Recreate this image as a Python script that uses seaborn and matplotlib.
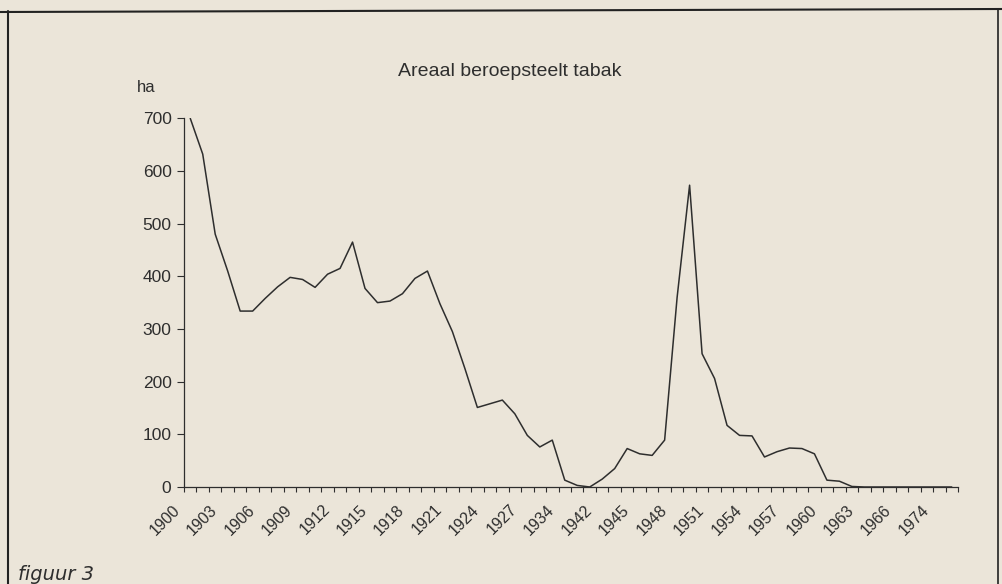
import matplotlib
matplotlib.use("Agg")
import matplotlib.pyplot as plt
import matplotlib.transforms as mtransforms
import seaborn as sns
import pandas as pd
import numpy as np
from matplotlib.lines import Line2D

# ---- data ----
years = (list(range(1900, 1928)) + [1929, 1931, 1934, 1938, 1940]
         + list(range(1942, 1967)) + [1968, 1971, 1974, 1977])
hectares = [700, 632, 480, 410, 334, 334, 358, 380, 398, 394,
            379, 404, 415, 465, 377, 350, 353, 367, 396, 410,
            348, 295, 225, 151, 158, 165, 139, 98, 76, 89,
            13, 3, 0, 15, 35, 73, 63, 60, 89, 360,
            573, 253, 206, 117, 98, 97, 57, 67, 74, 73,
            63, 13, 11, 1, 0, 0, 0, 0, 0, 0,
            0, 0]
label_every = 3
title = "Areaal beroepsteelt tabak"
y_unit = "ha"
caption = "figuur 3"

df = pd.DataFrame({"pos": np.arange(len(years)), "year": years, "ha": hectares})

bg = "#ebe5d9"
ink = "#2e2e2e"

sns.set_theme(style="white")
plt.rcParams["font.family"] = ["Liberation Sans", "DejaVu Sans"]

fig = plt.figure(figsize=(10.02, 5.84), dpi=100, facecolor=bg)
ax = fig.add_axes([184 / 1002, 1 - 487 / 584, (958 - 184) / 1002, (487 - 118.3) / 584])
ax.set_facecolor(bg)

sns.lineplot(data=df, x="pos", y="ha", ax=ax, color=ink, linewidth=1.1)

n = len(years)
ax.set_xlim(-0.5, n - 0.5)
ax.set_ylim(0, 700)
ax.set_xlabel("")
ax.set_ylabel("")

# x: tick marks on category boundaries, labels at category centres
ax.set_xticks(np.arange(n + 1) - 0.5)
ax.set_xticklabels([])
ax.tick_params(axis="x", which="major", direction="out", length=3.5, width=0.8, color=ink, bottom=True)
lab_pos = np.arange(0, n, label_every)
ax.set_xticks(lab_pos, minor=True)
ax.set_xticklabels([str(years[i]) for i in lab_pos], minor=True, rotation=45,
                   ha="right", va="top", rotation_mode="anchor", fontsize=11.5, color=ink)
ax.tick_params(axis="x", which="minor", length=0, pad=0, bottom=True)
shift = mtransforms.ScaledTranslation(-18 / 100, -15 / 100, fig.dpi_scale_trans)
for lbl in ax.get_xticklabels(minor=True):
    lbl.set_transform(lbl.get_transform() + shift)

ax.set_yticks(np.arange(0, 701, 100))
ax.tick_params(axis="y", direction="out", length=5, width=0.8, color=ink, left=True,
               labelsize=12.5, labelcolor=ink, pad=4)

for s in ["top", "right"]:
    ax.spines[s].set_visible(False)
for s in ["left", "bottom"]:
    ax.spines[s].set_color(ink)
    ax.spines[s].set_linewidth(0.9)

fig.text(510 / 1002, 1 - 72 / 584, title, ha="center", va="center", fontsize=14, color=ink)
fig.text(137 / 1002, 1 - 88 / 584, y_unit, ha="left", va="center", fontsize=12, color=ink)
fig.text(18 / 1002, 1 - 580 / 584, caption, ha="left", va="baseline", fontsize=14,
         fontstyle="italic", color=ink, family=["DejaVu Sans"])

# page frame
fig.add_artist(Line2D([0, 1], [1 - 12 / 584, 1 - 9 / 584], transform=fig.transFigure, color="#222222", lw=1.5))
fig.add_artist(Line2D([8 / 1002, 8 / 1002], [0, 1 - 11 / 584], transform=fig.transFigure, color="#222222", lw=1.5))
fig.add_artist(Line2D([998 / 1002, 998 / 1002], [0, 1 - 9 / 584], transform=fig.transFigure, color="#222222", lw=1.2))

fig.savefig("out.png", dpi=100, facecolor=bg)
